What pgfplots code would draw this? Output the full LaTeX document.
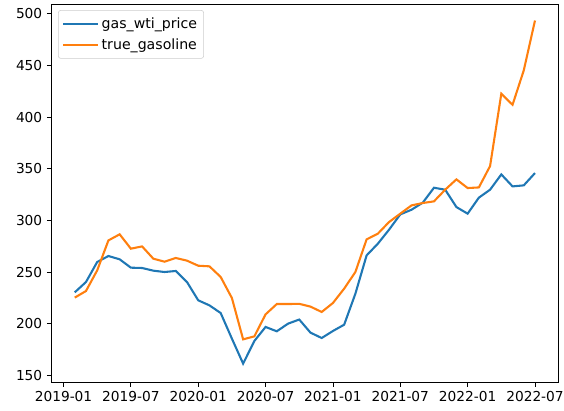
\documentclass[border=0pt]{standalone}
\usepackage{fontspec}
\setmainfont{DejaVu Sans}
\usepackage{pgfplots}
\pgfplotsset{compat=1.18}
\usetikzlibrary{calc}
\definecolor{c0}{HTML}{1F77B4}
\definecolor{c1}{HTML}{FF7F0E}

\pgfplotstableread{
m wti gas
1 230.3 225.2
2 240.3 231.6
3 259.7 251.6
4 265.5 280.6
5 262.3 286.5
6 254.2 272.6
7 253.9 274.8
8 251.3 262.9
9 250.0 260.0
10 251.0 263.6
11 240.3 261.0
12 222.6 256.1
13 217.7 255.5
14 210.3 245.2
15 185.5 224.8
16 161.3 184.8
17 183.2 187.7
18 196.8 209.0
19 192.6 219.0
20 200.0 219.0
21 204.0 219.2
22 191.3 216.5
23 186.1 211.3
24 192.9 220.0
25 199.0 233.9
26 229.0 250.0
27 266.1 281.6
28 277.4 287.1
29 291.0 298.4
30 305.8 306.5
31 310.3 314.5
32 317.1 316.8
33 331.6 318.4
34 329.7 329.7
35 312.9 339.7
36 306.5 331.3
37 322.0 331.9
38 329.7 352.6
39 344.5 422.6
40 332.9 411.9
41 333.9 445.2
42 345.8 493.5
}\datatable

\begin{document}
\begin{tikzpicture}
\begin{axis}[name=ax, scale only axis, width=379.7pt, height=283.5pt,
 xmin=-1.05, xmax=44.05, ymin=143.5, ymax=509.5,
 xtick={0,6,...,42},
 xticklabels={2019-01,2019-07,2020-01,2020-07,2021-01,2021-07,2022-01,2022-07},
 ytick={150,200,...,500},
 xtick pos=bottom, ytick pos=left,
 tick align=outside, major tick length=3.6pt,
 tick style={black, line width=0.6pt},
 axis line style={line width=0.6pt},
 ticklabel style={font=\fontsize{10.3}{12}\selectfont},
 /pgf/number format/assume math mode=true,
 /pgf/number format/1000 sep={},
 legend cell align=left,
 legend style={at={(axis description cs:0.0124,0.984)}, anchor=north west,
   draw=black!20, rounded corners=2pt, font=\fontsize{10.6}{12}\selectfont,
   inner xsep=3pt, inner ysep=3.5pt, row sep=2pt},
 legend image code/.code={\draw[#1] (0pt,0pt) -- (22pt,0pt); \path (0pt,0pt) -- (26pt,0pt);},
]
\addplot[c0, line width=1.56pt] table[x=m, y=wti] {\datatable};
\addlegendentry{gas\_wti\_price}
\addplot[c1, line width=1.56pt] table[x=m, y=gas] {\datatable};
\addlegendentry{true\_gasoline}
\end{axis}
\pgfresetboundingbox
\path ($(ax.south west)+(-38.8pt,-21pt)$) rectangle ($(ax.north east)+(4.5pt,3pt)$);
\end{tikzpicture}
\end{document}
